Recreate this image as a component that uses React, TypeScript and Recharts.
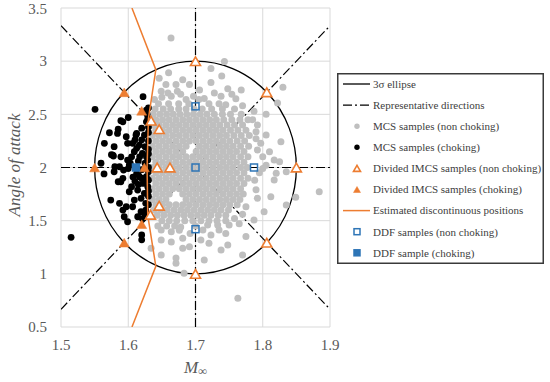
import React from 'react';
import { ScatterChart, Scatter, XAxis, YAxis, CartesianGrid, ReferenceArea } from 'recharts';

const GRAY = '#BFBFBF';
const ORANGE = '#ED7D31';
const BLUE = '#2E75B6';
const TEXT = '#595959';
const FONT = 'Liberation Serif, Times New Roman, serif';

const xTicks = [1.5, 1.6, 1.7, 1.8, 1.9];
const yTicks = [0.5, 1, 1.5, 2, 2.5, 3, 3.5];

// 3-sigma ellipse: bounding box in data units
const ellipseBox = { x1: 1.55, x2: 1.85, y1: 1, y2: 3 };

// representative directions (end points)
const dirH: [number, number][] = [[1.5, 2], [1.9, 2]];
const dirV: [number, number][] = [[1.7, 0.5], [1.7, 3.5]];
const dirD1: [number, number][] = [[1.5, 3.3333], [1.9, 0.6667]];
const dirD2: [number, number][] = [[1.5, 0.6667], [1.9, 3.3333]];

// estimated discontinuous positions
const discLine: [number, number][] = [
  [1.6055, 3.5], [1.641, 2.92], [1.630, 2.46], [1.628, 2.0], [1.629, 1.55], [1.641, 1.07], [1.6055, 0.5],
];

const imcsOpen: [number, number][] = [
  [1.7, 3], [1.806, 2.707], [1.85, 2], [1.806, 1.293], [1.7, 1],
  [1.634, 2.44], [1.646, 2.36], [1.643, 2.0], [1.662, 2.0], [1.646, 1.64], [1.633, 1.555],
];
const imcsFilled: [number, number][] = [
  [1.594, 2.707], [1.55, 2], [1.594, 1.293], [1.62, 2.533], [1.624, 2.0], [1.62, 1.467],
];
const ddfOpen: [number, number][] = [[1.7, 2.575], [1.7, 2.0], [1.787, 2.0], [1.7, 1.42]];
const ddfFilled: [number, number][] = [[1.6115, 2.0]];

const grayOuter: [number, number][] = [
  [1.6636, 3.218], [1.646, 2.84], [1.66, 2.89], [1.671, 2.78], [1.681, 2.826], [1.691, 2.78], [1.649, 2.716],
  [1.659, 2.70], [1.639, 2.64], [1.673, 2.716], [1.664, 2.67], [1.686, 2.64],
  [1.743, 2.998], [1.723, 2.93], [1.739, 2.86], [1.723, 2.80], [1.748, 2.74],
  [1.768, 2.73], [1.83, 2.754], [1.713, 2.65], [1.738, 2.67], [1.760, 2.647], [1.745, 2.59],
  [1.770, 2.58], [1.787, 2.53], [1.805, 2.50], [1.822, 2.607], [1.706, 2.73],
  [1.697, 2.67], [1.656, 2.78], [1.678, 2.69], [1.65, 2.66], [1.705, 2.64], [1.728, 2.70], [1.754, 2.69],
  [1.792, 2.40], [1.79, 2.337], [1.805, 2.306], [1.827, 2.243], [1.797, 2.227], [1.792, 2.165], [1.81, 2.149],
  [1.817, 2.07], [1.825, 2.055], [1.805, 2.02], [1.82, 1.945], [1.817, 1.882], [1.835, 1.96], [1.884, 1.772],
  [1.812, 1.725], [1.849, 1.72], [1.835, 1.647], [1.802, 1.584], [1.775, 1.63], [1.792, 1.71],
  [1.788, 1.88], [1.795, 1.95], [1.80, 2.10], [1.79, 2.27], [1.785, 2.45], [1.79, 1.79], [1.80, 1.99],
  [1.644, 1.45], [1.669, 1.45], [1.678, 1.44], [1.649, 1.412], [1.664, 1.396],
  [1.676, 1.41], [1.649, 1.318], [1.634, 1.24], [1.649, 1.177], [1.671, 1.15], [1.671, 1.10], [1.681, 1.24],
  [1.691, 1.255], [1.683, 1.005], [1.681, 1.334], [1.664, 1.30], [1.711, 1.412], [1.723, 1.365], [1.708, 1.318],
  [1.72, 1.287], [1.738, 1.224], [1.748, 1.27], [1.75, 1.46], [1.735, 1.412], [1.775, 1.35], [1.745, 1.50],
  [1.758, 1.52], [1.787, 1.506], [1.77, 1.177], [1.713, 1.13], [1.763, 0.77], [1.733, 1.46], [1.70, 1.45],
  [1.718, 1.46], [1.765, 1.47], [1.692, 1.38], [1.745, 1.38], [1.657, 1.45], [1.77, 1.56],
];

// dense core of the MCS cloud, row by row: [alpha, Mach values]
const grayCoreRows: [number, number[]][] = [
  [2.60, [1.645, 1.66, 1.675, 1.69, 1.72, 1.735]],
  [2.55, [1.640, 1.652, 1.663, 1.675, 1.686, 1.698, 1.71, 1.724, 1.74, 1.758]],
  [2.50, [1.637, 1.647, 1.657, 1.667, 1.677, 1.687, 1.697, 1.707, 1.717, 1.728, 1.740, 1.752, 1.768]],
  [2.45, [1.641, 1.651, 1.661, 1.671, 1.681, 1.691, 1.701, 1.711, 1.721, 1.731, 1.742, 1.754, 1.766, 1.778]],
  [2.40, [1.636, 1.646, 1.656, 1.666, 1.676, 1.686, 1.696, 1.706, 1.716, 1.726, 1.736, 1.747, 1.758, 1.770]],
  [2.35, [1.641, 1.651, 1.661, 1.671, 1.681, 1.691, 1.701, 1.711, 1.721, 1.731, 1.741, 1.752, 1.763, 1.775]],
  [2.30, [1.636, 1.646, 1.656, 1.666, 1.676, 1.686, 1.696, 1.706, 1.716, 1.726, 1.736, 1.746, 1.757, 1.768, 1.780]],
  [2.25, [1.641, 1.651, 1.661, 1.671, 1.681, 1.691, 1.701, 1.711, 1.721, 1.731, 1.741, 1.751, 1.762, 1.773]],
  [2.20, [1.636, 1.646, 1.656, 1.666, 1.676, 1.686, 1.706, 1.716, 1.726, 1.736, 1.746, 1.756, 1.767, 1.779]],
  [2.15, [1.641, 1.651, 1.661, 1.671, 1.681, 1.701, 1.711, 1.721, 1.731, 1.741, 1.751, 1.761, 1.772]],
  [2.10, [1.636, 1.646, 1.656, 1.666, 1.676, 1.686, 1.696, 1.706, 1.716, 1.726, 1.736, 1.746, 1.756, 1.767, 1.778]],
  [2.05, [1.641, 1.651, 1.661, 1.671, 1.681, 1.691, 1.701, 1.711, 1.721, 1.731, 1.741, 1.751, 1.761, 1.772]],
  [2.00, [1.636, 1.646, 1.656, 1.666, 1.676, 1.686, 1.696, 1.706, 1.716, 1.726, 1.736, 1.746, 1.756, 1.767, 1.777]],
  [1.95, [1.641, 1.651, 1.661, 1.671, 1.681, 1.691, 1.701, 1.711, 1.721, 1.731, 1.741, 1.751, 1.761, 1.772]],
  [1.90, [1.636, 1.646, 1.656, 1.666, 1.676, 1.686, 1.696, 1.706, 1.716, 1.726, 1.736, 1.746, 1.756, 1.767, 1.778]],
  [1.85, [1.641, 1.651, 1.661, 1.671, 1.681, 1.691, 1.701, 1.711, 1.721, 1.731, 1.741, 1.751, 1.761, 1.772]],
  [1.80, [1.636, 1.646, 1.656, 1.666, 1.676, 1.686, 1.696, 1.706, 1.716, 1.726, 1.736, 1.746, 1.756, 1.767]],
  [1.75, [1.641, 1.651, 1.661, 1.681, 1.691, 1.701, 1.711, 1.721, 1.731, 1.741, 1.751, 1.761, 1.771]],
  [1.70, [1.636, 1.646, 1.656, 1.686, 1.696, 1.706, 1.716, 1.726, 1.736, 1.746, 1.756, 1.766]],
  [1.65, [1.641, 1.651, 1.661, 1.671, 1.681, 1.691, 1.701, 1.711, 1.721, 1.731, 1.741, 1.751, 1.762]],
  [1.60, [1.638, 1.648, 1.658, 1.668, 1.678, 1.688, 1.698, 1.708, 1.718, 1.728, 1.738, 1.749]],
  [1.55, [1.643, 1.653, 1.663, 1.673, 1.683, 1.693, 1.703, 1.713, 1.723, 1.734, 1.745]],
  [1.50, [1.650, 1.661, 1.672, 1.684, 1.696, 1.708, 1.72, 1.732]],
];

const blackPts: [number, number][] = [
  [1.5506, 2.547], [1.592, 2.43], [1.600, 2.47], [1.622, 2.666], [1.627, 2.54], [1.628, 2.50], [1.627, 2.43],
  [1.629, 2.46], [1.63, 2.56], [1.589, 2.44], [1.572, 2.327], [1.584, 2.32], [1.597, 2.29], [1.6115, 2.306],
  [1.624, 2.305], [1.5645, 2.227], [1.579, 2.196], [1.599, 2.227], [1.6065, 2.227], [1.6165, 2.211], [1.625, 2.195],
  [1.6125, 2.18], [1.609, 2.149], [1.621, 2.133], [1.577, 2.117], [1.589, 2.10], [1.617, 2.10], [1.627, 2.10],
  [1.599, 2.07], [1.629, 2.07], [1.5595, 2.04], [1.603, 2.04], [1.587, 2.007], [1.6015, 2.023], [1.580, 2.007],
  [1.564, 1.94], [1.579, 1.96], [1.593, 1.976], [1.6125, 1.945], [1.627, 1.913], [1.6165, 1.913], [1.592, 1.898],
  [1.589, 1.866], [1.622, 1.85], [1.624, 1.866], [1.629, 1.82], [1.614, 1.788], [1.6015, 1.772], [1.624, 1.757],
  [1.574, 1.694], [1.587, 1.663], [1.597, 1.631], [1.6065, 1.631], [1.609, 1.694], [1.619, 1.71], [1.626, 1.663],
  [1.592, 1.6], [1.619, 1.584], [1.626, 1.6], [1.594, 1.537], [1.599, 1.49], [1.614, 1.537], [1.621, 1.52],
  [1.62, 1.365], [1.62, 1.32], [1.515, 1.343], [1.578, 2.108], [1.6125, 2.32], [1.585, 2.36], [1.585, 1.866],
  [1.63, 2.38], [1.62, 2.37], [1.63, 2.33], [1.63, 2.25], [1.62, 2.26], [1.63, 2.17], [1.63, 2.13],
  [1.615, 2.06], [1.625, 2.04], [1.63, 2.0], [1.62, 1.98], [1.63, 1.96], [1.615, 1.96], [1.63, 1.88],
  [1.62, 1.90], [1.61, 1.87], [1.63, 1.78], [1.605, 1.82], [1.615, 1.84], [1.63, 1.73], [1.605, 2.10],
  [1.61, 2.26], [1.60, 1.99], [1.607, 1.91], [1.63, 1.65], [1.625, 1.56], [1.575, 2.12],
];

const toXY = (arr: [number, number][]) => arr.map(([x, y]) => ({ x, y }));
const grayData = [
  ...toXY(grayOuter),
  ...grayCoreRows.flatMap(([y, xs]) => xs.map((x) => ({ x, y }))),
];

const dot = (color: string, r: number) => (p: any) => <circle cx={p.cx} cy={p.cy} r={r} fill={color} />;
const tri = (filled: boolean, w = 10, h = 8.7) => (p: any) => (
  <path
    d={`M${p.cx},${p.cy - h / 2}L${p.cx + w / 2},${p.cy + h / 2}L${p.cx - w / 2},${p.cy + h / 2}Z`}
    fill={filled ? ORANGE : '#fff'}
    stroke={ORANGE}
    strokeWidth={filled ? 0.5 : 1.6}
    strokeLinejoin="miter"
  />
);
const sq = (filled: boolean, s = 7) => (p: any) => (
  <rect x={p.cx - s / 2} y={p.cy - s / 2} width={s} height={s} fill={filled ? BLUE : 'none'} stroke={BLUE} strokeWidth={1.5} />
);
const none = () => <g />;

const EllipseShape = (p: any) => (
  <ellipse cx={p.x + p.width / 2} cy={p.y + p.height / 2} rx={p.width / 2} ry={p.height / 2} fill="none" stroke="#000" strokeWidth={1.3} />
);

const XTick = (p: any) => (
  <text x={p.x} y={p.y} dy="0.71em" textAnchor="middle" fontFamily={FONT} fontSize={15} fill={TEXT}>
    {String(p.payload.value)}
  </text>
);
const YTick = (p: any) => (
  <text x={p.x} y={p.y} dy="0.355em" textAnchor="end" fontFamily={FONT} fontSize={15} fill={TEXT}>
    {String(p.payload.value)}
  </text>
);

const DASHDOT = '9 3 2 3';

const legendItems = [
  { label: '3σ ellipse', kind: 'line' },
  { label: 'Representative directions', kind: 'dashdot' },
  { label: 'MCS samples (non choking)', kind: 'gray' },
  { label: 'MCS samples (choking)', kind: 'black' },
  { label: 'Divided IMCS samples (non choking)', kind: 'triOpen' },
  { label: 'Divided IMCS samples (choking)', kind: 'triFilled' },
  { label: 'Estimated discontinuous positions', kind: 'orangeLine' },
  { label: 'DDF samples (non choking)', kind: 'sqOpen' },
  { label: 'DDF sample (choking)', kind: 'sqFilled' },
];

const LegendIcon = ({ kind, y }: { kind: string; y: number }) => {
  const cx = 20;
  switch (kind) {
    case 'line':
      return <line x1={6} x2={33} y1={y} y2={y} stroke="#000" strokeWidth={1.3} />;
    case 'dashdot':
      return <line x1={6} x2={33} y1={y} y2={y} stroke="#000" strokeWidth={1.3} strokeDasharray={DASHDOT} />;
    case 'gray':
      return <circle cx={cx} cy={y} r={2.7} fill={GRAY} />;
    case 'black':
      return <circle cx={cx} cy={y} r={2.7} fill="#000" />;
    case 'triOpen':
      return tri(false, 7, 6)({ cx, cy: y });
    case 'triFilled':
      return tri(true, 7, 6)({ cx, cy: y });
    case 'orangeLine':
      return <line x1={6} x2={33} y1={y} y2={y} stroke={ORANGE} strokeWidth={1.5} />;
    case 'sqOpen':
      return sq(false, 6)({ cx, cy: y });
    case 'sqFilled':
      return sq(true, 6)({ cx, cy: y });
    default:
      return null;
  }
};

const ChartLegend = () => (
  <svg width={207} height={191} style={{ position: 'absolute', left: 337, top: 73 }}>
    <rect x={0.75} y={0.75} width={205.5} height={189.5} fill="#fff" stroke="#3a3a3a" strokeWidth={1.5} />
    {legendItems.map((it, i) => {
      const y = 11 + i * 21.1;
      return (
        <g key={it.label}>
          <LegendIcon kind={it.kind} y={y} />
          <text x={36} y={y} dy="0.35em" fontFamily={FONT} fontSize={11} fill="#404040">
            {it.label}
          </text>
        </g>
      );
    })}
  </svg>
);

const Titles = () => (
  <svg width={550} height={382} style={{ position: 'absolute', left: 0, top: 0, pointerEvents: 'none' }}>
    <text transform="rotate(-90)" x={-165} y={20} textAnchor="middle" fontFamily={FONT} fontStyle="italic" fontSize={17} fill={TEXT}>
      Angle of attack
    </text>
    <text x={184} y={373} fontFamily={FONT} fontStyle="italic" fontSize={17} fill={TEXT}>
      M<tspan fontSize={12} dy={2}>∞</tspan>
    </text>
  </svg>
);

export default function App() {
  return (
    <div style={{ position: 'absolute', left: 0, top: 0, width: 550, height: 382, background: '#fff' }}>
      <ScatterChart width={550} height={382} margin={{ top: 8, right: 220, bottom: 0, left: 0 }}>
        <CartesianGrid stroke="#D9D9D9" strokeWidth={1} />
        <XAxis
          type="number"
          dataKey="x"
          domain={[1.5, 1.9]}
          ticks={xTicks}
          allowDataOverflow
          axisLine={false}
          tickLine={false}
          tickSize={0}
          tickMargin={12}
          height={55}
          tick={XTick}
        />
        <YAxis
          type="number"
          dataKey="y"
          domain={[0.5, 3.5]}
          ticks={yTicks}
          allowDataOverflow
          axisLine={false}
          tickLine={false}
          tickSize={0}
          tickMargin={14}
          width={61}
          tick={YTick}
        />
        {[dirH, dirV, dirD1, dirD2].map((d, i) => (
          <Scatter
            key={i}
            data={toXY(d)}
            line={{ stroke: '#000', strokeWidth: 1.2, strokeDasharray: DASHDOT }}
            lineType="joint"
            shape={none}
            isAnimationActive={false}
          />
        ))}
        <ReferenceArea x1={ellipseBox.x1} x2={ellipseBox.x2} y1={ellipseBox.y1} y2={ellipseBox.y2} shape={EllipseShape} />
        <Scatter data={grayData} shape={dot(GRAY, 3.5)} isAnimationActive={false} />
        <Scatter data={toXY(blackPts)} shape={dot('#000', 3.4)} isAnimationActive={false} />
        <Scatter data={toXY(discLine)} line={{ stroke: ORANGE, strokeWidth: 1.5 }} lineType="joint" shape={none} isAnimationActive={false} />
        <Scatter data={toXY(imcsOpen)} shape={tri(false)} isAnimationActive={false} />
        <Scatter data={toXY(imcsFilled)} shape={tri(true)} isAnimationActive={false} />
        <Scatter data={toXY(ddfOpen)} shape={sq(false)} isAnimationActive={false} />
        <Scatter data={toXY(ddfFilled)} shape={sq(true)} isAnimationActive={false} />
      </ScatterChart>
      <Titles />
      <ChartLegend />
    </div>
  );
}
